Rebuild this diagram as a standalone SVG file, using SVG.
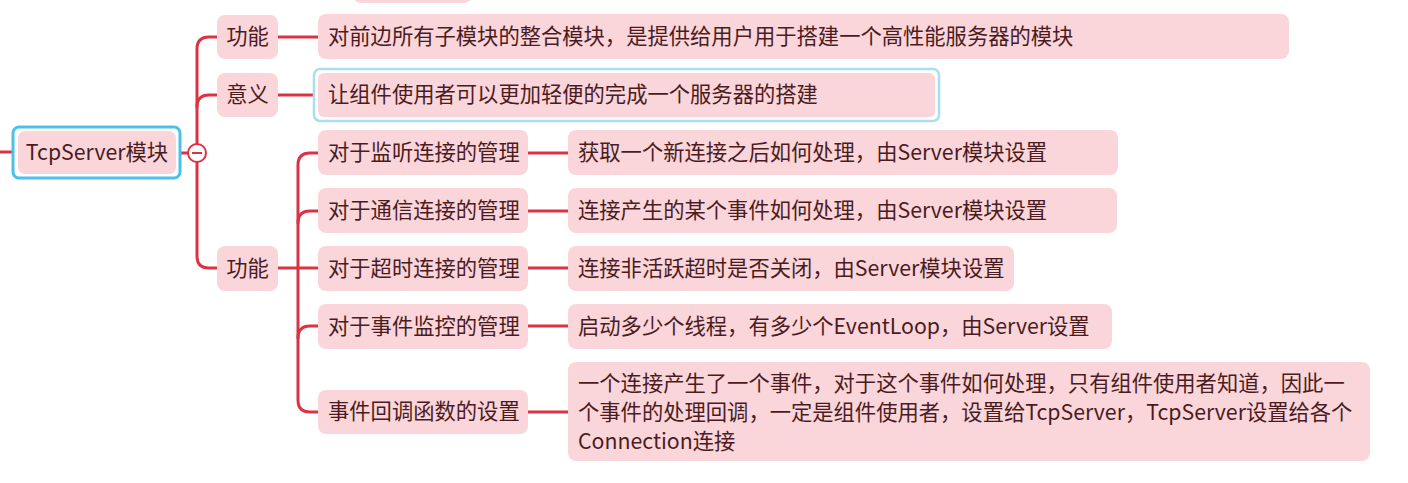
<svg xmlns="http://www.w3.org/2000/svg" width="1408" height="483" viewBox="0 0 1408 483">
<style>
.box{fill:#fad5d9;}
.t{font-family:"Noto Sans CJK SC","Liberation Sans",sans-serif;font-size:21.3px;fill:#4a1c1f;}
.c{text-anchor:middle;}
.ln{fill:none;stroke:#d93344;stroke-width:3;stroke-linecap:round;}
</style>
<rect width="1408" height="483" fill="#ffffff"/>
<rect x="353" y="-40" width="119" height="43" rx="8" class="box"/>
<g id="connectors">
<path class="ln" d="M0,152 H12"/>
<path class="ln" d="M181,153 H188"/>
<path class="ln" d="M217,37 H209 Q197,37 197,49 V256 Q197,268 209,268 H217"/>
<path class="ln" d="M197,107 Q197,95 209,95 H217"/>
<path class="ln" d="M278,37 H318"/>
<path class="ln" d="M278,95 H314"/>
<path class="ln" d="M278,268 H318"/>
<path class="ln" d="M318,153 H310 Q298,153 298,165 V400 Q298,412 310,412 H318"/>
<path class="ln" d="M298,223 Q298,211 310,211 H318"/>
<path class="ln" d="M298,338 Q298,326 310,326 H318"/>
<path class="ln" d="M528,153 H568"/>
<path class="ln" d="M528,211 H568"/>
<path class="ln" d="M528,268 H568"/>
<path class="ln" d="M528,326 H568"/>
<path class="ln" d="M528,412 H568"/>
</g>
<g id="root">
<rect x="13" y="127" width="167" height="51" rx="6" fill="#ffffff" stroke="#4cc0e8" stroke-width="3"/>
<rect x="18" y="131" width="158" height="43" rx="7" class="box"/>
<text x="97" y="160" class="t c">TcpServer模块</text>
</g>
<g id="collapse">
<circle cx="197" cy="153" r="9" fill="#ffffff" stroke="#d93344" stroke-width="2"/>
<path d="M192,153 H202" stroke="#d93344" stroke-width="2"/>
</g>
<g id="n-func1">
<rect x="217" y="15" width="61" height="44" rx="8" class="box"/>
<text x="247.5" y="44" class="t c">功能</text>
</g>
<g id="n-meaning">
<rect x="217" y="73" width="61" height="44" rx="8" class="box"/>
<text x="247.5" y="102" class="t c">意义</text>
</g>
<g id="n-func2">
<rect x="217" y="246" width="61" height="45" rx="8" class="box"/>
<text x="247.5" y="276" class="t c">功能</text>
</g>
<g id="n-func1-desc">
<rect x="318" y="14" width="971" height="45" rx="8" class="box"/>
<text x="328" y="44" class="t">对前边所有子模块的整合模块，是提供给用户用于搭建一个高性能服务器的模块</text>
</g>
<g id="n-meaning-desc">
<rect x="314" y="69" width="625" height="52" rx="6" fill="#ffffff" stroke="#a9dff0" stroke-width="2.5"/>
<rect x="318" y="73" width="617" height="44" rx="6" class="box"/>
<text x="328" y="102" class="t">让组件使用者可以更加轻便的完成一个服务器的搭建</text>
</g>
<g id="n-listen">
<rect x="318" y="130" width="210" height="45" rx="8" class="box"/>
<text x="328" y="160" class="t">对于监听连接的管理</text>
</g>
<g id="n-comm">
<rect x="318" y="188" width="210" height="45" rx="8" class="box"/>
<text x="328" y="218" class="t">对于通信连接的管理</text>
</g>
<g id="n-timeout">
<rect x="318" y="246" width="210" height="45" rx="8" class="box"/>
<text x="328" y="276" class="t">对于超时连接的管理</text>
</g>
<g id="n-event">
<rect x="318" y="304" width="210" height="45" rx="8" class="box"/>
<text x="328" y="334" class="t">对于事件监控的管理</text>
</g>
<g id="n-callback">
<rect x="318" y="390" width="210" height="44" rx="8" class="box"/>
<text x="328" y="419" class="t">事件回调函数的设置</text>
</g>
<g id="n-listen-desc">
<rect x="568" y="130" width="550" height="45" rx="8" class="box"/>
<text x="578" y="160" class="t">获取一个新连接之后如何处理，由Server模块设置</text>
</g>
<g id="n-comm-desc">
<rect x="568" y="188" width="549" height="45" rx="8" class="box"/>
<text x="578" y="218" class="t">连接产生的某个事件如何处理，由Server模块设置</text>
</g>
<g id="n-timeout-desc">
<rect x="568" y="246" width="446" height="45" rx="8" class="box"/>
<text x="578" y="276" class="t">连接非活跃超时是否关闭，由Server模块设置</text>
</g>
<g id="n-event-desc">
<rect x="568" y="304" width="544" height="45" rx="8" class="box"/>
<text x="578" y="334" class="t">启动多少个线程，有多少个EventLoop，由Server设置</text>
</g>
<g id="n-callback-desc">
<rect x="568" y="362" width="802" height="99" rx="8" class="box"/>
<text class="t"><tspan x="578" y="391">一个连接产生了一个事件，对于这个事件如何处理，只有组件使用者知道，因此一</tspan><tspan x="578" y="420">个事件的处理回调，一定是组件使用者，设置给TcpServer，TcpServer设置给各个</tspan><tspan x="578" y="449">Connection连接</tspan></text>
</g>
</svg>
